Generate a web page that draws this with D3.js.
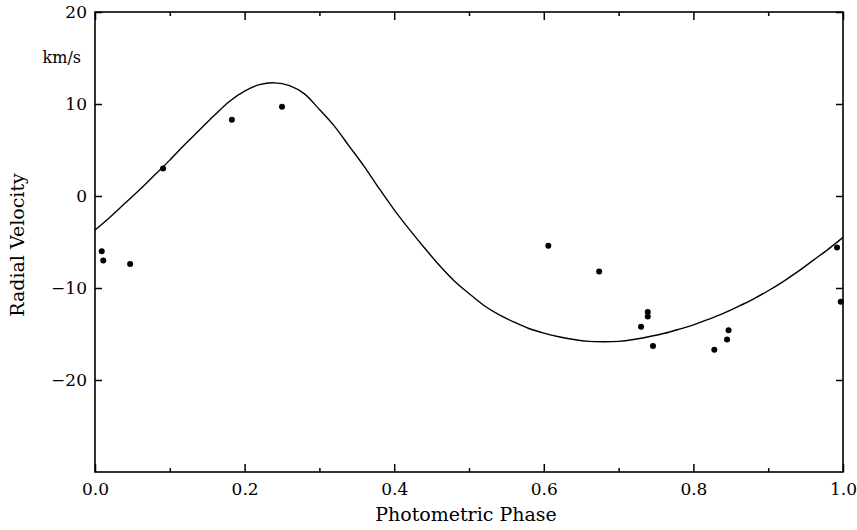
<!DOCTYPE html>
<html>
<head>
<meta charset="utf-8">
<script src="https://cdn.jsdelivr.net/npm/d3@7"></script>
<style>
  body { margin: 0; background: #fff; }
</style>
</head>
<body>
<div class="chart"></div>
<script>
//Observed radial velocities (phase, km/s)
var obsPhase = [0.009, 0.011, 0.047, 0.091, 0.183, 0.250, 0.606, 0.674, 0.730, 0.739, 0.739, 0.746, 0.828, 0.845, 0.847, 0.992, 0.997];
var obsVelocity = [-6.0, -7.0, -7.4, 3.0, 8.3, 9.7, -5.4, -8.2, -14.2, -12.6, -13.1, -16.3, -16.7, -15.6, -14.6, -5.6, -11.5];

//Fitted velocity curve, every 0.02 in phase
var curvePhase = [0.00, 0.02, 0.04, 0.06, 0.08, 0.10, 0.12, 0.14, 0.16, 0.18,
                  0.20, 0.22, 0.24, 0.26, 0.28, 0.30, 0.32, 0.34, 0.36, 0.38,
                  0.40, 0.42, 0.44, 0.46, 0.48, 0.50, 0.52, 0.54, 0.56, 0.58,
                  0.60, 0.62, 0.64, 0.66, 0.68, 0.70, 0.72, 0.74, 0.76, 0.78,
                  0.80, 0.82, 0.84, 0.86, 0.88, 0.90, 0.92, 0.94, 0.96, 0.98, 1.00];
var curveVelocity = [-3.7, -2.3, -0.8, 0.7, 2.3, 3.9, 5.6, 7.2, 8.8, 10.3,
                     11.4, 12.1, 12.3, 12.0, 11.1, 9.4, 7.6, 5.4, 3.2, 0.8,
                     -1.5, -3.6, -5.6, -7.5, -9.2, -10.6, -11.9, -12.9, -13.7, -14.4,
                     -14.9, -15.3, -15.6, -15.8, -15.85, -15.8, -15.6, -15.3, -14.95, -14.5,
                     -14.0, -13.4, -12.75, -12.0, -11.2, -10.3, -9.3, -8.2, -7.0, -5.8, -4.5];

//Axis ticks
var xMajorTicks = [0.0, 0.2, 0.4, 0.6, 0.8, 1.0];
var xMinorTicks = [0.1, 0.3, 0.5, 0.7, 0.9];
var yTicks = [20, 10, 0, -10, -20];

var serif = "DejaVu Serif, Liberation Serif, serif";

function chart(){
  var w = 857;
  var h = 530;

  var svg = d3.select(".chart")
              .append("svg")
              .attr("width", w)
              .attr("height", h);

  var x = d3.scaleLinear()
            .domain([0, 1])
            .range([95, 843]);

  var y = d3.scaleLinear()
            .domain([-30, 20])
            .range([472, 12]);

  //Bottom axis, ticks pointing inwards
  svg.append("g")
      .attr("transform", "translate(0," + y(-30) + ")")
      .call(d3.axisBottom(x)
              .tickValues(xMajorTicks)
              .tickSize(-8)
              .tickPadding(11)
              .tickFormat(d3.format(".1f")));

  svg.append("g")
      .attr("transform", "translate(0," + y(-30) + ")")
      .call(d3.axisBottom(x).tickValues(xMinorTicks).tickSize(-4).tickFormat(""));

  //Top axis, no labels
  svg.append("g")
      .attr("transform", "translate(0," + y(20) + ")")
      .call(d3.axisTop(x).tickValues(xMajorTicks).tickSize(-8).tickFormat(""));

  svg.append("g")
      .attr("transform", "translate(0," + y(20) + ")")
      .call(d3.axisTop(x).tickValues(xMinorTicks).tickSize(-4).tickFormat(""));

  //Left axis
  svg.append("g")
      .attr("transform", "translate(" + x(0) + ",0)")
      .call(d3.axisLeft(y)
              .tickValues(yTicks)
              .tickSize(-7)
              .tickPadding(8)
              .tickFormat(function(d){
                return d < 0 ? "\u2212" + Math.abs(d) : d;
              }));

  //Right axis
  svg.append("g")
      .attr("transform", "translate(" + x(1) + ",0)")
      .call(d3.axisRight(y).tickValues(yTicks).tickSize(-7).tickFormat(""));

  //Style all axes alike
  svg.selectAll(".domain").remove();
  svg.selectAll("g").attr("font-family", serif).attr("font-size", 17);
  svg.selectAll(".tick line")
      .attr("stroke", "#000")
      .attr("stroke-width", 1.5);
  svg.selectAll(".tick text")
      .attr("fill", "#000");

  //Frame
  svg.append("rect")
      .attr("x", x(0))
      .attr("y", y(20))
      .attr("width", x(1) - x(0))
      .attr("height", y(-30) - y(20))
      .attr("fill", "none")
      .attr("stroke", "#000")
      .attr("stroke-width", 1.6);

  //Velocity curve
  var curveData = curvePhase.map(function(p, i){
    return {p: p, v: curveVelocity[i]};
  });

  var line = d3.line()
               .x(function(d){ return x(d.p); })
               .y(function(d){ return y(d.v); })
               .curve(d3.curveCatmullRom);

  svg.append("path")
      .datum(curveData)
      .attr("d", line)
      .attr("fill", "none")
      .attr("stroke", "#000")
      .attr("stroke-width", 1.4);

  //Observations
  svg.selectAll("circle")
      .data(obsPhase)
      .enter()
      .append("circle")
      .attr("cx", function(d){ return x(d); })
      .attr("cy", function(d, i){ return y(obsVelocity[i]); })
      .attr("r", 3)
      .attr("fill", "#000");

  //Labels
  svg.append("text")
      .attr("x", 81)
      .attr("y", 63)
      .attr("text-anchor", "end")
      .attr("font-family", serif)
      .attr("font-size", 16)
      .text("km/s");

  svg.append("text")
      .attr("x", 466)
      .attr("y", 521)
      .attr("text-anchor", "middle")
      .attr("font-family", serif)
      .attr("font-size", 19)
      .text("Photometric Phase");

  svg.append("text")
      .attr("transform", "translate(24,245) rotate(-90)")
      .attr("text-anchor", "middle")
      .attr("font-family", serif)
      .attr("font-size", 19)
      .text("Radial Velocity");
}

window.onload = chart;
</script>
</body>
</html>
